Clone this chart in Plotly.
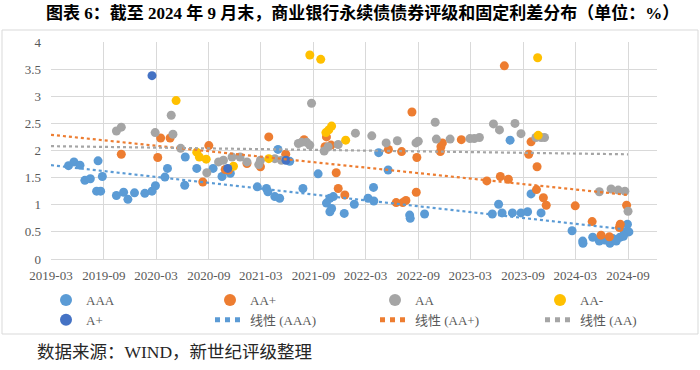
import plotly.graph_objects as go

# ---------------- data ----------------
aaa_dates = ["2019-05-01","2019-05-20","2019-06-10","2019-06-27","2019-07-16","2019-08-12","2019-08-27",
             "2019-08-07","2019-08-21","2019-10-15","2019-11-09","2019-11-24","2019-12-17","2020-01-22",
             "2020-02-16","2020-02-28","2020-04-01","2020-04-10","2020-06-09","2020-06-11","2020-07-21",
             "2020-09-16","2020-10-17","2020-11-15","2021-02-17","2021-03-21","2021-03-26","2021-04-19",
             "2021-05-06","2021-04-30","2021-06-10","2021-07-26","2021-09-17","2021-10-28","2021-11-09",
             "2021-10-16","2021-11-03","2021-10-28","2022-01-21","2021-12-17","2022-04-16","2022-05-19",
             "2022-03-29","2022-03-10","2022-03-30","2022-08-02","2022-08-04","2022-09-23","2023-06-08",
             "2023-05-17","2023-06-20","2023-07-26","2023-08-25","2023-09-17","2023-11-03","2023-07-18",
             "2023-09-29","2024-02-19","2024-03-27","2024-03-28","2024-05-01","2024-05-24","2024-06-30",
             "2024-07-10","2024-08-04","2024-08-19","2024-08-30","2024-09-04","2024-06-12","2024-07-22",
             "2024-08-16"]
aaa_vals = [1.72,1.79,1.73,1.45,1.48,1.81,1.52,
            1.25,1.25,1.17,1.23,1.10,1.22,1.21,
            1.25,1.35,1.51,1.67,1.36,1.88,1.67,
            1.67,1.52,1.58,1.33,1.30,1.24,1.15,
            1.12,2.02,1.80,1.30,1.57,1.12,1.15,
            1.03,0.93,0.87,1.01,0.84,1.96,1.64,
            1.32,1.12,1.07,0.81,0.75,0.83,1.01,
            0.83,0.85,0.85,0.85,0.87,0.85,2.19,
            1.20,0.52,0.33,0.29,0.40,0.33,0.29,
            0.38,0.40,0.50,0.64,0.50,0.35,0.33,
            0.42]

aap_dates = ["2019-11-01","2020-03-07","2020-03-17","2020-04-19","2020-08-11","2020-09-01","2020-10-28",
             "2020-11-09","2021-01-12","2021-02-28","2021-03-29","2021-05-27","2021-07-30","2021-10-16",
             "2021-10-11","2021-11-01","2021-11-19","2021-11-26","2021-12-19","2022-05-20","2022-07-05",
             "2022-08-10","2022-08-27","2022-08-25","2022-06-16","2022-07-09","2022-07-20","2022-11-19",
             "2022-11-24","2022-11-17","2023-01-29","2023-04-28","2023-06-14","2023-07-12","2023-06-28",
             "2023-09-29","2023-09-21","2023-10-20","2023-10-18","2023-11-11","2023-11-21","2024-03-01",
             "2024-04-29","2024-05-30","2024-06-28","2024-08-02","2024-08-05","2024-08-27"]
aap_vals = [1.93,1.87,2.23,2.23,1.42,2.09,1.65,
            1.64,1.76,1.70,2.25,1.93,2.20,2.25,
            2.07,2.10,1.59,1.30,1.18,2.02,1.98,
            2.71,1.87,1.23,1.04,1.04,1.08,2.07,
            2.14,1.98,2.20,1.44,1.52,1.47,3.56,
            2.16,1.93,1.70,1.28,1.13,0.99,0.98,
            0.69,0.44,0.41,0.58,0.64,0.99]

aa_dates = ["2019-10-15","2019-11-01","2020-02-27","2020-04-23","2020-04-29","2020-05-26","2020-08-25",
            "2020-10-05","2020-10-22","2020-11-21","2020-12-19","2021-01-12","2021-02-22","2021-02-28",
            "2021-04-19","2021-05-12","2021-07-10","2021-07-21","2021-08-08","2021-08-19","2021-08-25",
            "2021-10-08","2021-10-22","2021-11-26","2022-01-25","2022-03-23","2022-05-12","2022-06-20",
            "2022-08-24","2022-09-01","2022-10-30","2022-11-03","2022-12-21","2023-02-28","2023-03-15",
            "2023-04-02","2023-05-21","2023-06-11","2023-08-04","2023-08-25","2023-10-16","2023-11-03",
            "2023-11-15","2024-05-24","2024-07-04","2024-07-29","2024-08-21","2024-09-01"]
aa_vals = [2.36,2.43,2.33,2.65,2.30,2.04,1.59,
           1.79,1.82,1.88,1.88,1.79,1.74,1.82,
           1.85,1.82,2.13,2.15,2.15,2.10,2.87,
           1.99,2.07,2.11,2.32,2.27,2.14,2.18,
           2.14,2.17,2.52,2.21,2.21,2.22,2.22,
           2.24,2.49,2.38,2.50,2.31,2.24,2.24,
           2.24,1.24,1.29,1.27,1.25,0.88]

aam_dates = ["2020-05-10","2020-07-21","2020-07-30","2020-08-23","2020-11-26","2021-03-29","2021-08-19",
             "2021-09-26","2021-10-14","2021-10-24","2021-11-03","2021-12-22","2023-10-22","2023-10-24"]
aam_vals = [2.92,1.97,1.88,1.84,1.71,1.85,3.76,
            3.68,2.33,2.38,2.45,2.19,3.71,2.28]

ap_dates = ["2020-02-16","2020-11-06","2021-05-28"]
ap_vals = [3.38,1.67,1.82]

trend_dates = ["2019-03-01", "2024-09-01"]
trend_aaa = [1.73, 0.54]
trend_aap = [2.29, 1.18]
trend_aa = [2.08, 1.93]

x_range = ["2019-03-01", "2024-12-11"]

TITLE = "图表 6：截至 2024 年 9 月末，商业银行永续债债券评级和固定利差分布（单位：%）"
SOURCE = "数据来源：WIND，新世纪评级整理"

C_AAA = "#5B9BD5"
C_AAP = "#ED7D31"
C_AA = "#A5A5A5"
C_AAM = "#FFC000"
C_AP = "#4472C4"

SERIF = "Liberation Serif, Times New Roman, Noto Sans CJK SC, serif"

fig = go.Figure()

# legend columns (Excel legend: 4 columns x 2 rows)
def scatter(x, y, name, color, legend):
    fig.add_trace(go.Scatter(x=x, y=y, mode="markers", name=name, legend=legend,
                             marker=dict(color=color, size=9, line=dict(width=0))))

scatter(aaa_dates, aaa_vals, "AAA", C_AAA, "legend")
scatter(aap_dates, aap_vals, "AA+", C_AAP, "legend2")
scatter(aa_dates, aa_vals, "AA", C_AA, "legend3")
scatter(aam_dates, aam_vals, "AA-", C_AAM, "legend4")
scatter(ap_dates, ap_vals, "A+", C_AP, "legend")

def trend(y, name, color, legend):
    fig.add_trace(go.Scatter(x=trend_dates, y=y, mode="lines", name=name, legend=legend,
                             line=dict(color=color, width=2.2, dash="dot")))

trend(trend_aaa, "线性 (AAA)", C_AAA, "legend2")
trend(trend_aap, "线性 (AA+)", C_AAP, "legend3")
trend(trend_aa, "线性 (AA)", C_AA, "legend4")

# plot area: x 51..657 px, y 41.7..259 px
L, R, T, B = 51, 43, 42, 111
W, H = 700, 370
pw = W - L - R
ph = H - T - B

def px_x(p):
    return (p - L) / pw

def px_y(p):
    return (H - B - p) / ph

def legend_at(px):
    return dict(orientation="v", x=px_x(px), xanchor="left", y=px_y(285), yanchor="top",
                font=dict(family=SERIF, size=13, color="#595959"),
                bgcolor="rgba(0,0,0,0)", tracegroupgap=0, itemsizing="constant",
                traceorder="normal")

fig.update_layout(
    width=W, height=H,
    margin=dict(l=L, r=R, t=T, b=B, autoexpand=False),
    paper_bgcolor="white", plot_bgcolor="white",
    showlegend=True,
    legend=legend_at(46),
    legend2=legend_at(210),
    legend3=legend_at(375),
    legend4=legend_at(540),
    xaxis=dict(type="date", range=x_range, tick0="2019-03-01", dtick="M6", tickformat="%Y-%m",
               showgrid=True, gridcolor="#D9D9D9", gridwidth=1,
               showline=True, linecolor="#D9D9D9", linewidth=1,
               ticks="", ticklabelstandoff=4,
               tickfont=dict(family=SERIF, size=13, color="#595959"),
               zeroline=False, fixedrange=True),
    yaxis=dict(range=[0, 4], dtick=0.5, tick0=0,
               showgrid=True, gridcolor="#D9D9D9", gridwidth=1,
               showline=False, zeroline=False, ticks="",
               ticklabelstandoff=9,
               tickfont=dict(family=SERIF, size=13, color="#595959"), fixedrange=True),
    annotations=[
        dict(text="<b>" + TITLE + "</b>", xref="paper", yref="paper",
             x=px_x(362), y=px_y(13), xanchor="center", yanchor="middle", showarrow=False,
             font=dict(family=SERIF, size=17, color="#000000")),
        dict(text=SOURCE, xref="paper", yref="paper",
             x=px_x(35), y=px_y(352), xanchor="left", yanchor="middle", showarrow=False,
             font=dict(family=SERIF, size=17.5, color="#262626")),
    ],
    shapes=[
        dict(type="rect", xref="paper", yref="paper",
             x0=px_x(2), x1=px_x(698), y0=px_y(334), y1=px_y(30),
             line=dict(color="#D9D9D9", width=1), fillcolor="rgba(0,0,0,0)", layer="below"),
    ],
)

fig.write_html("out.html", config={"displayModeBar": False},
               post_script="document.body.style.margin='0';document.body.style.padding='0';")
